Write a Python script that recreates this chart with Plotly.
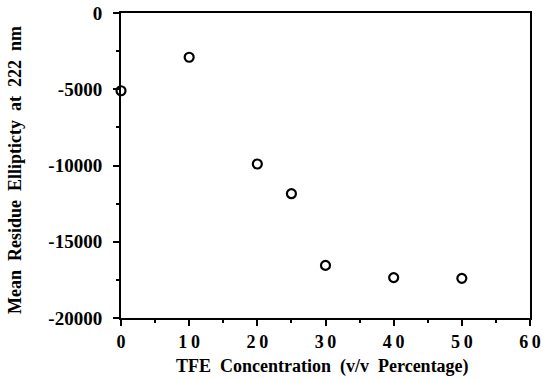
import plotly.graph_objects as go

tfe = [0, 10, 20, 25, 30, 40, 50]
ellipticity = [-5100, -2900, -9900, -11850, -16550, -17350, -17400]

x_ticks = [0, 10, 20, 30, 40, 50, 60]
x_ticklabels = ["0", "1\u20090", "2\u20090", "3\u20090", "4\u20090", "5\u20090", "6\u20090"]
y_ticks = [-20000, -15000, -10000, -5000, 0]
y_ticklabels = ["-20000", "-15000", "-10000", "-5000", "0"]
x_title = "TFE  Concentration  (v/v  Percentage)"
y_title = "Mean  Residue  Ellipticty  at  222  nm"

FAM = "Liberation Serif"
font = dict(family=FAM, color="black")

fig = go.Figure()
fig.add_trace(go.Scatter(
    x=tfe, y=ellipticity, mode="markers", cliponaxis=False,
    marker=dict(symbol="circle-open", size=9, color="black", line=dict(width=2.2)),
    showlegend=False,
))

fig.update_layout(
    width=543, height=379,
    margin=dict(l=121, r=13, t=13, b=61),
    paper_bgcolor="white", plot_bgcolor="white",
    font=font,
    xaxis=dict(
        range=[0, 60], tickvals=x_ticks,
        ticktext=[f"<b>{t}</b>" for t in x_ticklabels],
        ticks="outside", ticklen=6, tickwidth=2, tickcolor="black",
        minor=dict(tickvals=[5, 15, 25, 35, 45, 55], ticks="outside", ticklen=3, tickwidth=1.5, tickcolor="black"),
        showline=True, linewidth=2, linecolor="black", mirror=True,
        showgrid=False, zeroline=False, automargin=False,
        tickfont=dict(size=18, family=FAM), ticklabelstandoff=0,
    ),
    yaxis=dict(
        range=[-20000, 0], tickvals=y_ticks,
        ticktext=[f"<b>{t}</b>" for t in y_ticklabels],
        ticks="outside", ticklen=6, tickwidth=2, tickcolor="black",
        minor=dict(tickvals=[-17500, -12500, -7500, -2500], ticks="outside", ticklen=3, tickwidth=1.5, tickcolor="black"),
        showline=True, linewidth=2, linecolor="black", mirror=True,
        showgrid=False, zeroline=False, automargin=False,
        tickfont=dict(size=19, family=FAM), ticklabelstandoff=7,
    ),
    annotations=[
        dict(text=f"<b>{x_title}</b>", xref="paper", yref="paper", x=(322-121)/409, y=(318-366)/305,
             xanchor="center", yanchor="middle", showarrow=False, font=dict(size=18, family=FAM)),
        dict(text=f"<b>{y_title}</b>", xref="paper", yref="paper", x=(15-121)/409, y=(318-170)/305,
             xanchor="center", yanchor="middle", textangle=-90, showarrow=False, font=dict(size=18, family=FAM)),
    ],
)

fig.write_html("out.html")
